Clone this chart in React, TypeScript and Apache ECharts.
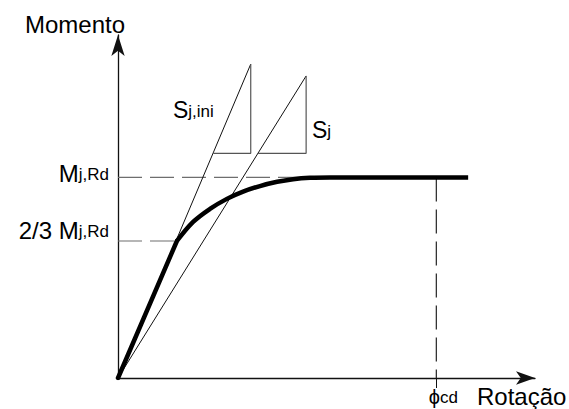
import React, { useEffect, useRef } from "react";
import * as echarts from "echarts";

// Normalised units: rotation / phi_cd, moment / M_j,Rd
const axisMax = { rotation: 1.31, moment: 1.71 };

// Elastic (straight) branch of the moment-rotation curve
const elasticRotation = [0, 0.185];
const elasticMoment = [0, 0.683];

// Non-linear branch up to the plateau
const curveRotation = [0.185, 0.236, 0.289, 0.342, 0.393, 0.446, 0.5, 0.55, 0.603, 0.666, 1.1];
const curveMoment = [0.683, 0.778, 0.843, 0.893, 0.929, 0.957, 0.978, 0.991, 0.998, 1.0, 1.0];

// Initial stiffness S_j,ini line and its slope triangle
const sjIniRotation = [0, 0.417];
const sjIniMoment = [0, 1.565];
const sjIniTriRotation = [0.299, 0.417, 0.417];
const sjIniTriMoment = [1.12, 1.12, 1.565];

// Secant stiffness S_j line and its slope triangle
const sjRotation = [0, 0.591];
const sjMoment = [0, 1.506];
const sjTriRotation = [0.439, 0.591, 0.591];
const sjTriMoment = [1.12, 1.12, 1.506];

// Reference levels
const mRd = 1.0;
const mEl = 0.683;
const phiCd = 1.0;
const mRdDashEnd = 0.62;

const FONT = "Liberation Sans, Arial, sans-serif";

const zip = (xs: number[], ys: number[]) => xs.map((x, i) => [x, ys[i]]);

const subRich = (big: number, small: number) => ({
  m: { fontSize: big, fontFamily: FONT, fill: "#000", verticalAlign: "middle" },
  s: { fontSize: small, fontFamily: FONT, fill: "#000", verticalAlign: "middle", padding: [3, 0, 0, 0] },
});

export default function App() {
  const ref = useRef<HTMLDivElement>(null);
  useEffect(() => {
    const chart = echarts.init(ref.current!, null, { renderer: "svg" });
    const dash = (data: number[][], color: string, z = 2) => ({
      type: "line",
      data,
      symbol: "none",
      silent: true,
      z,
      lineStyle: { color, width: 1.2, type: [24, 8] },
    });
    const thin = (data: number[][], color: string, width = 1) => ({
      type: "line",
      data,
      symbol: "none",
      silent: true,
      z: 3,
      lineStyle: { color, width },
    });
    chart.setOption({
      animation: false,
      backgroundColor: "#fff",
      grid: { left: 118, right: 34, top: 35, bottom: 31 },
      xAxis: {
        type: "value",
        min: 0,
        max: axisMax.rotation,
        splitLine: { show: false },
        axisLine: {
          show: true,
          lineStyle: { color: "#111", width: 1.3 },
          symbol: ["none", "arrow"],
          symbolSize: [10, 19],
        },
        axisTick: { show: true, customValues: [phiCd], length: 10, lineStyle: { color: "#111", width: 1 } },
        axisLabel: {
          show: true,
          customValues: [phiCd],
          margin: 9,
          padding: [0, 0, 0, 14],
          formatter: () => "{p|ϕ}{s|cd}",
          rich: {
            p: { fontSize: 20, fontFamily: FONT, color: "#000", verticalAlign: "middle" },
            s: { fontSize: 17, fontFamily: FONT, color: "#000", verticalAlign: "middle" },
          },
        },
      },
      yAxis: {
        type: "value",
        min: 0,
        max: axisMax.moment,
        splitLine: { show: false },
        axisLine: {
          show: true,
          lineStyle: { color: "#111", width: 1.3 },
          symbol: ["none", "arrow"],
          symbolSize: [10, 21],
        },
        axisTick: { show: false },
        axisLabel: { show: false },
      },
      series: [
        dash([[0, mRd], [mRdDashEnd, mRd]], "#6e6e6e"),
        dash([[0, mEl], [elasticRotation[1], mEl]], "#6e6e6e"),
        dash([[phiCd, mRd], [phiCd, 0]], "#222"),
        thin(zip(sjIniRotation, sjIniMoment), "#111"),
        thin(zip(sjRotation, sjMoment), "#111"),
        thin(zip(sjIniTriRotation, sjIniTriMoment), "#555", 1.2),
        thin(zip(sjTriRotation, sjTriMoment), "#555", 1.2),
        {
          type: "line",
          data: zip(elasticRotation, elasticMoment),
          symbol: "none",
          silent: true,
          z: 5,
          lineStyle: { color: "#000", width: 4.5, cap: "round" },
        },
        {
          type: "line",
          data: zip(curveRotation, curveMoment),
          symbol: "none",
          smooth: 0.35,
          silent: true,
          z: 5,
          lineStyle: { color: "#000", width: 4.5, cap: "butt", join: "round" },
        },
      ],
      graphic: [
        {
          type: "text",
          x: 25,
          y: 24,
          style: { text: "Momento", font: `24px ${FONT}`, fill: "#000", align: "left", verticalAlign: "middle" },
        },
        {
          type: "text",
          x: 477,
          y: 396,
          style: { text: "Rotação", font: `24px ${FONT}`, fill: "#000", align: "left", verticalAlign: "middle" },
        },
        {
          type: "text",
          x: 109,
          y: 173,
          style: { text: "{m|M}{s|j,Rd}", align: "right", verticalAlign: "middle", rich: subRich(24, 17) },
        },
        {
          type: "text",
          x: 109,
          y: 230,
          style: { text: "{m|2/3 M}{s|j,Rd}", align: "right", verticalAlign: "middle", rich: subRich(24, 17) },
        },
        {
          type: "text",
          x: 173,
          y: 110,
          style: { text: "{m|S}{s|j,ini}", align: "left", verticalAlign: "middle", rich: subRich(23, 17) },
        },
        {
          type: "text",
          x: 312,
          y: 130,
          style: { text: "{m|S}{s|j}", align: "left", verticalAlign: "middle", rich: subRich(23, 17) },
        },
      ],
    });
    return () => chart.dispose();
  }, []);
  return (
    <div
      ref={ref}
      style={{ position: "fixed", left: 0, top: 0, width: 569, height: 409, background: "#fff" }}
    />
  );
}
